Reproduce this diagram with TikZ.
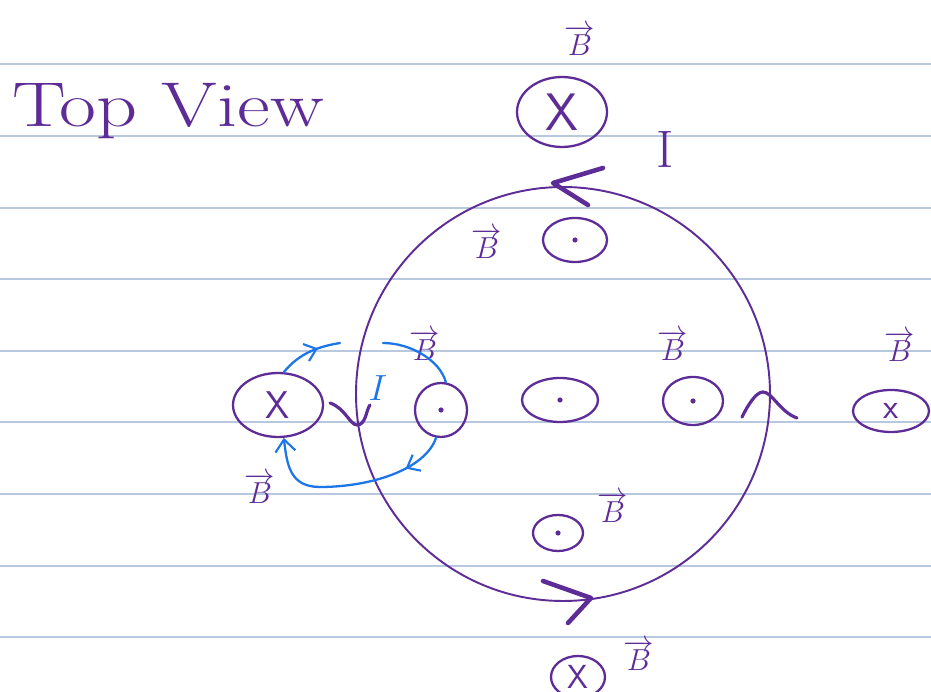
\documentclass[tikz,border=0pt]{standalone}
\usetikzlibrary{shapes.geometric,arrows.meta,decorations.markings}
\definecolor{ink}{RGB}{94,44,150}
\definecolor{blueink}{RGB}{28,118,232}
\definecolor{rulec}{RGB}{184,200,222}
\begin{document}
\begin{tikzpicture}[x=0.02cm,y=-0.02cm,
  wire/.style={ellipse,draw=ink,line width=1.3pt,inner sep=0pt,text=ink,font=\sffamily},
  bvec/.style={text=ink,inner sep=0pt,font=\fontsize{17}{17}\selectfont},
  chev/.style={draw=ink,line width=2.6pt,line cap=round,line join=round},
  turnmark/.style={draw=ink,line width=1.8pt,line cap=round,line join=round},
  field/.style={draw=blueink,line width=1.3pt,line cap=round},
  midarrow/.style={postaction={decorate},decoration={markings,
     mark=at position #1 with {\arrow{Straight Barb[length=2.2mm,width=3.6mm,line width=1.2pt]}}}},
]
\useasboundingbox (0,0) rectangle (931,692);
\fill[white] (0,0) rectangle (931,692);
\foreach \y in {64,136,208,279,351,422,494,566,637}
  \draw[rulec,line width=0.8pt] (0,\y) -- (931,\y);

% title
\node[anchor=base west,text=ink,inner sep=0pt] (title) at (12,127)
  {\scalebox{1.27}[1]{\fontsize{36}{40}\selectfont Top View}};

% current loop
\draw[ink,line width=1.1pt] (563,394) circle[radius=207];

% direction marks on the loop
\draw[chev] (603,168) -- (553,183) -- (588,205);
\draw[chev] (543,581) -- (591,598) -- (568,623);
\draw[turnmark] (330,403) .. controls (345,408) and (350,425) .. (357,425) .. controls (366,425) and (366,410) .. (370,405);
\draw[turnmark] (742,417) .. controls (748,405) and (756,392) .. (763,392) .. controls (772,392) and (780,412) .. (797,418);

% current label
\node[text=ink,inner sep=0pt,font=\fontsize{30}{30}\selectfont] (I) at (665,150) {I};

% wires / field symbols
\node[wire,minimum width=1.8cm,minimum height=1.4cm,font=\sffamily\fontsize{30}{30}\selectfont] (xT) at (562,112) {X};
\node[wire,minimum width=1.28cm,minimum height=0.88cm] (dT) at (575,240) {};
\node[wire,minimum width=1.04cm,minimum height=1.08cm] (dL) at (441,410) {};
\node[wire,minimum width=1.52cm,minimum height=0.88cm] (dM) at (560,400) {};
\node[wire,minimum width=1.2cm,minimum height=0.96cm] (dR) at (693,401) {};
\node[wire,minimum width=1.8cm,minimum height=1.28cm,font=\sffamily\fontsize{22}{22}\selectfont] (xL) at (278,405) {X};
\node[wire,minimum width=1.52cm,minimum height=0.84cm,font=\sffamily\fontsize{20}{20}\selectfont] (xR) at (891,411) {x};
\node[wire,minimum width=1.0cm,minimum height=0.72cm] (dB) at (558,533) {};
\node[wire,minimum width=1.08cm,minimum height=0.84cm,font=\sffamily\fontsize{19}{19}\selectfont] (xB) at (578,677) {X};
\foreach \n in {dT,dL,dM,dR,dB} \fill[ink] (\n) circle[radius=2.6];

% B labels
\node[bvec] (bT) at (580,40) {$\overrightarrow{B}$};
\node[bvec] (bdT) at (487,243) {$\overrightarrow{B}$};
\node[bvec] (bdL) at (425,345) {$\overrightarrow{B}$};
\node[bvec] (bdR) at (673,345) {$\overrightarrow{B}$};
\node[bvec] (bxR) at (900,346) {$\overrightarrow{B}$};
\node[bvec] (bxL) at (260,488) {$\overrightarrow{B}$};
\node[bvec] (bdB) at (613,507) {$\overrightarrow{B}$};
\node[bvec] (bxB) at (639,655) {$\overrightarrow{B}$};

% blue field line around the straight wire segment
\coordinate (g1) at (340,343);
\coordinate (g2) at (383,343);
\draw[field,midarrow=0.65] (xL.80) .. controls (298,355) and (315,347) .. (g1);
\draw[field] (g2) .. controls (410,343) and (440,360) .. (dL.80);
\draw[field,midarrow=0.22,-{Straight Barb[length=2.4mm,width=4mm,line width=1.2pt]}]
  (dL.-100) .. controls (425,470) and (370,487) .. (320,487)
  .. controls (290,487) and (287,465) .. (xL.-80);
\node[text=blueink,inner sep=0pt,font=\fontsize{20}{20}\selectfont] (Ib) at (378,388) {$I$};
\end{tikzpicture}
\end{document}
